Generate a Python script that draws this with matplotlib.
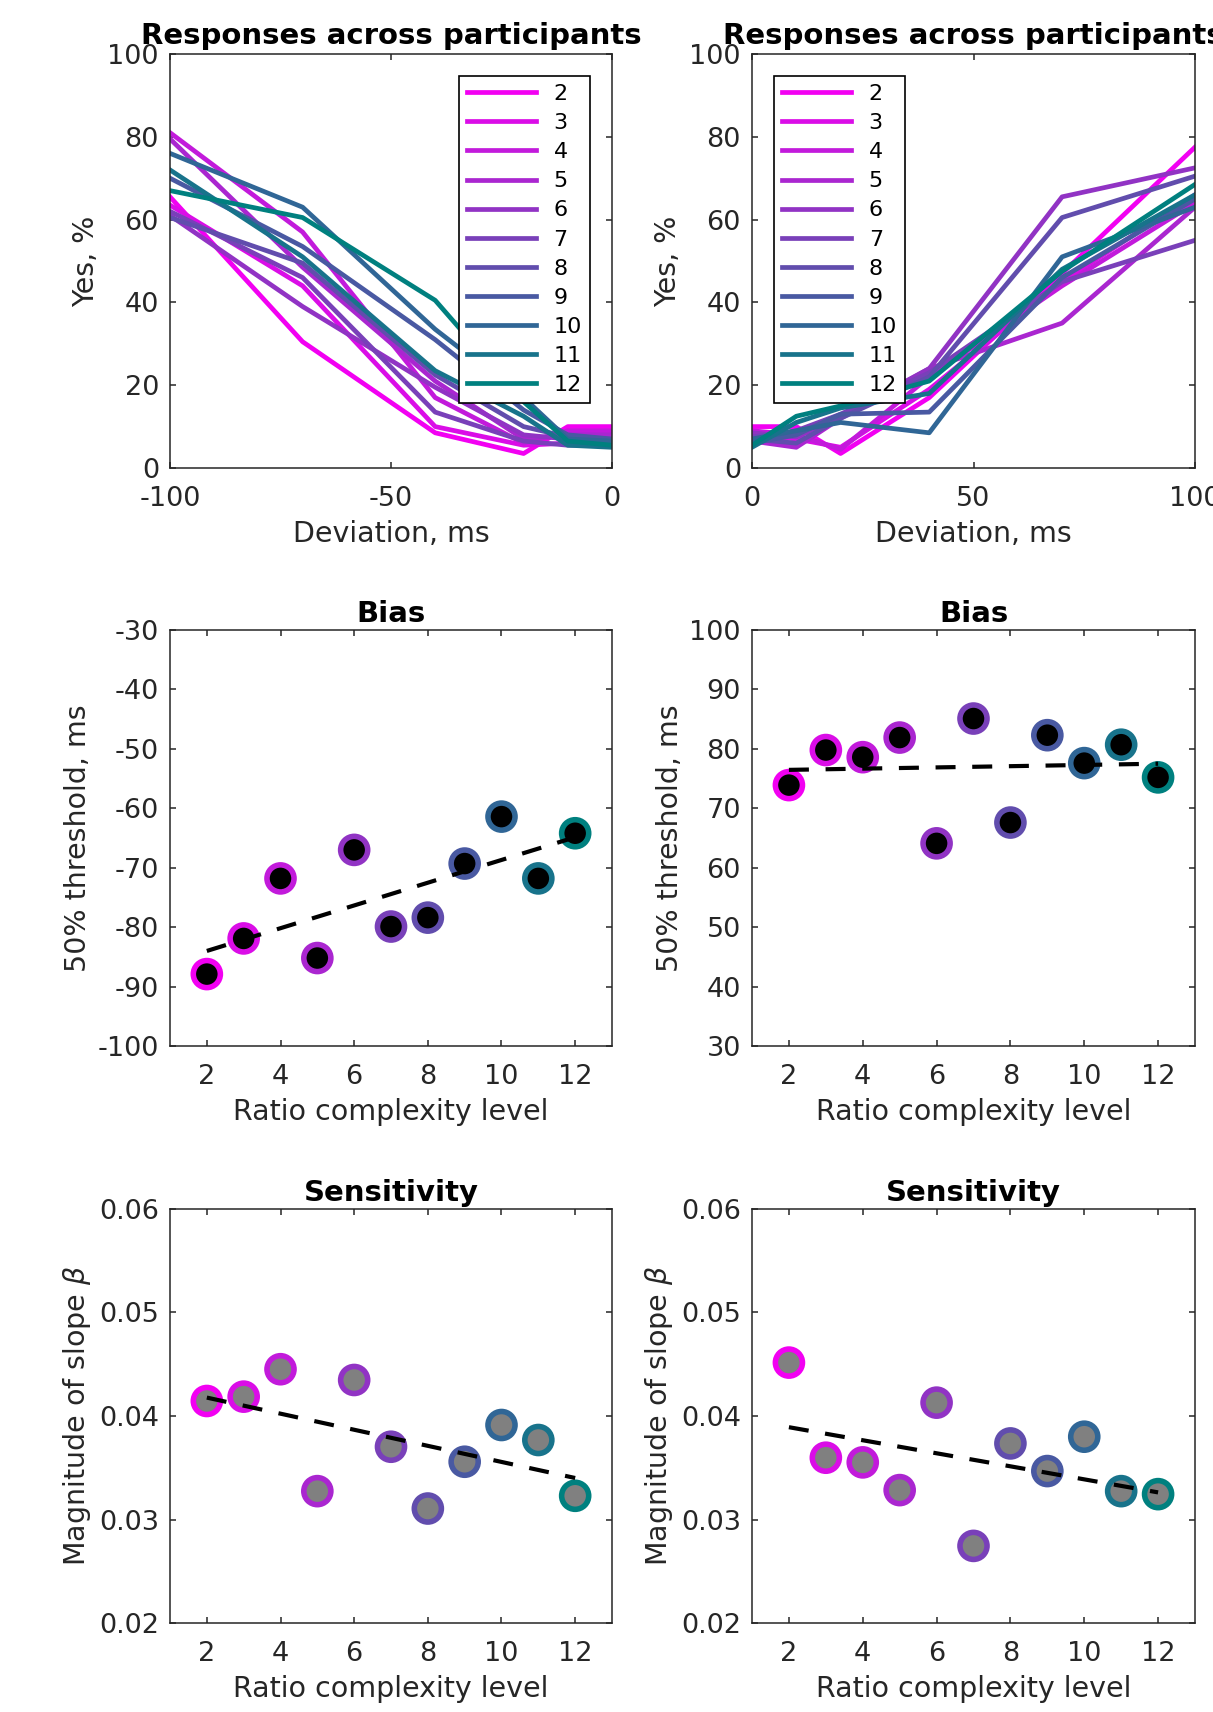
import numpy as np
import matplotlib.pyplot as plt

plt.rcParams['font.family'] = ['DejaVu Sans']
plt.rcParams['axes.unicode_minus'] = False

# complexity levels 2..12
levels = [2, 3, 4, 5, 6, 7, 8, 9, 10, 11, 12]

# deviation values (ms) for the two response panels
dev_neg = [-100, -70, -40, -20, -10, 0]
dev_pos = [0, 10, 20, 40, 70, 100]

# "yes" responses, % (one row per level)
yes_neg = [
    [65.5, 30.5, 8.5, 3.5, 10, 10],
    [63.5, 44, 10, 5.5, 6, 6],
    [81, 57, 17, 6, 9, 9],
    [79.5, 48.5, 21, 7, 8, 8],
    [61, 39, 19.5, 8, 7, 7],
    [62, 46, 13.5, 6.5, 5.5, 5.5],
    [60.5, 49.5, 22.5, 10, 7.5, 6],
    [70, 53.5, 31, 14, 8, 7],
    [76, 63, 33.5, 17, 7, 6.5],
    [72, 51, 23.5, 12.5, 5.5, 5],
    [67, 60.5, 40.5, 16, 6.5, 5.5],
]
yes_pos = [
    [10, 10, 3.5, 17, 47, 77.5],
    [8, 7, 5, 19, 45, 66],
    [9, 8, 4.5, 22, 44, 64],
    [6.5, 5, 12, 24, 35, 63],
    [8.5, 7.5, 12.5, 24, 65.5, 72.5],
    [7.5, 9, 13, 23, 45, 55],
    [7, 6, 12, 22, 60.5, 70.5],
    [6, 8, 13, 13.5, 46, 65],
    [7, 9, 11, 8.5, 51, 63],
    [5, 11, 14.5, 18, 48, 66],
    [5.5, 12.5, 15, 21, 47.5, 68.5],
]

# 50% thresholds, ms
bias_neg = [-87.9, -81.9, -71.8, -85.2, -67.0, -79.9, -78.4, -69.3, -61.4, -71.8, -64.2]
bias_pos = [73.9, 79.8, 78.6, 81.9, 64.1, 85.1, 67.6, 82.3, 77.6, 80.7, 75.2]

# slope magnitudes
slope_neg = [0.04145, 0.04187, 0.04452, 0.03274, 0.04348, 0.03703, 0.03106, 0.03558, 0.03913, 0.03768, 0.03229]
slope_pos = [0.04516, 0.03597, 0.03552, 0.03284, 0.04129, 0.02745, 0.03735, 0.03468, 0.03800, 0.03274, 0.03245]

# colour ramp magenta -> teal
c0 = np.array([0.95, 0.0, 0.95])
c1 = np.array([0.0, 0.5, 0.5])
colors = [tuple(c0 + (c1 - c0) * (l - 2) / 10) for l in levels]

txt = '#262626'
W, H = 1213, 1712
fig = plt.figure(figsize=(W / 100, H / 100), dpi=100)


def make_ax(left, top, right, bottom):
    ax = fig.add_axes([left / W, 1 - bottom / H, (right - left) / W, (bottom - top) / H])
    for s in ax.spines.values():
        s.set_color(txt)
        s.set_linewidth(1.1)
    ax.tick_params(direction='in', length=4, width=1.1, top=True, right=True,
                   labelsize=19.5, labelcolor=txt, color=txt)
    ax.tick_params(axis='y', pad=8)
    ax.tick_params(axis='x', pad=13)
    return ax


cols = [(170, 612), (752, 1195)]
rows = [(54, 468), (630, 1046), (1209, 1623)]

# --- top row: response curves
for j, (devs, yes, loc) in enumerate([(dev_neg, yes_neg, 'upper right'),
                                      (dev_pos, yes_pos, 'upper left')]):
    ax = make_ax(cols[j][0], rows[0][0], cols[j][1], rows[0][1])
    for i, l in enumerate(levels):
        ax.plot(devs, yes[i], color=colors[i], lw=3.4, label=str(l))
    ax.set_xlim(min(devs), max(devs))
    ax.set_ylim(0, 100)
    ticks = [devs[0], (devs[0] + devs[-1]) / 2, devs[-1]]
    ax.set_xticks(ticks)
    ax.set_xticklabels([str(int(v)) for v in ticks])
    ax.set_yticks(range(0, 101, 20))
    ax.set_xlabel('Deviation, ms', fontsize=20.5, color=txt, labelpad=6)
    ax.set_ylabel('Yes, %', fontsize=20.5, color=txt, labelpad=5)
    ax.set_title('Responses across participants', fontsize=21, fontweight='bold', pad=7)
    leg = ax.legend(loc=loc, fontsize=16, fancybox=False, framealpha=1, edgecolor='black',
                    handlelength=3.1, labelspacing=0.41, borderpad=0.35,
                    borderaxespad=1.0, handletextpad=0.8)
    leg.get_frame().set_linewidth(1.2)


def scatter_panel(ax, vals, face):
    ax.scatter(levels, vals, s=380, c=face, edgecolors=colors, linewidths=4, zorder=3)
    k, b = np.polyfit(levels, vals, 1)
    xs = np.array([levels[0], levels[-1]])
    ax.plot(xs, k * xs + b, color='black', lw=3, linestyle=(0, (4.8, 4)), zorder=4)
    ax.set_xlim(1, 13)
    ax.set_xticks(range(2, 13, 2))
    ax.set_xlabel('Ratio complexity level', fontsize=20.5, color=txt, labelpad=6)


# --- middle row: bias
for j, (vals, lims) in enumerate([(bias_neg, (-100, -30)), (bias_pos, (30, 100))]):
    ax = make_ax(cols[j][0], rows[1][0], cols[j][1], rows[1][1])
    scatter_panel(ax, vals, 'black')
    ax.set_ylim(*lims)
    ax.set_yticks(range(lims[0], lims[1] + 1, 10))
    ax.set_ylabel('50% threshold, ms', fontsize=20.5, color=txt, labelpad=4)
    ax.set_title('Bias', fontsize=21, fontweight='bold', pad=6)

# --- bottom row: sensitivity
for j, vals in enumerate([slope_neg, slope_pos]):
    ax = make_ax(cols[j][0], rows[2][0], cols[j][1], rows[2][1])
    scatter_panel(ax, vals, '#808080')
    ax.set_ylim(0.02, 0.06)
    ax.set_yticks([0.02, 0.03, 0.04, 0.05, 0.06])
    ax.set_yticklabels(['0.02', '0.03', '0.04', '0.05', '0.06'])
    ax.set_ylabel(r'Magnitude of slope $\beta$', fontsize=20.5, color=txt, labelpad=4)
    ax.set_title('Sensitivity', fontsize=21, fontweight='bold', pad=6)

fig.savefig('out.png', dpi=100)
